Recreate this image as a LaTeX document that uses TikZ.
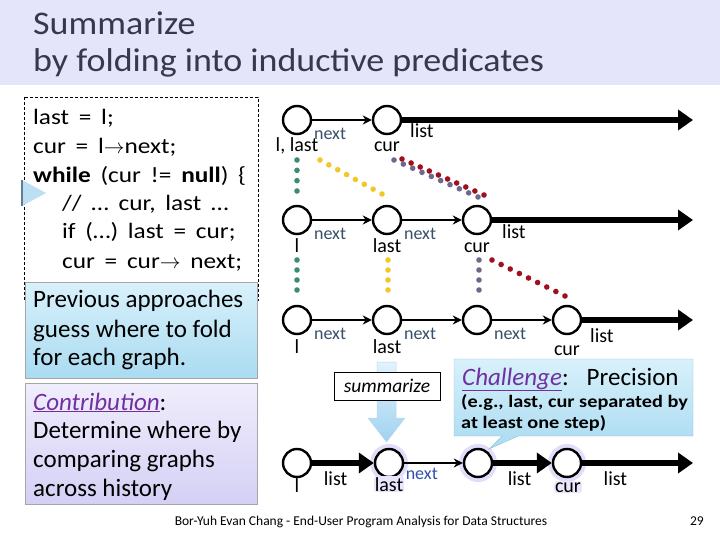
\documentclass[tikz,border=0pt]{standalone}
\usepackage{fontspec}
\setmainfont{Carlito}
\newfontfamily\codefont[FakeStretch=1.15, WordSpace=1.7]{Carlito}
\newfontfamily\notefont[FakeStretch=1.16]{Carlito}
\newfontfamily\headfont[FakeStretch=1.09]{Carlito}
\usetikzlibrary{arrows.meta, positioning, calc, shapes.callouts}

\definecolor{titlebg}{RGB}{228,228,250}
\definecolor{titleink}{RGB}{55,55,78}
\definecolor{prevtop}{RGB}{216,241,251}
\definecolor{prevbot}{RGB}{170,219,241}
\definecolor{contop}{RGB}{240,237,252}
\definecolor{conbot}{RGB}{212,208,245}
\definecolor{keyword}{RGB}{112,48,160}
\definecolor{fieldink}{RGB}{55,78,104}
\definecolor{fieldblue}{RGB}{50,80,170}
\definecolor{dotgreen}{RGB}{60,140,110}
\definecolor{dotyellow}{RGB}{242,200,40}
\definecolor{dotgray}{RGB}{110,105,140}
\definecolor{dotred}{RGB}{160,15,30}
\definecolor{glow}{RGB}{180,170,240}
\definecolor{arrowtop}{RGB}{226,243,252}
\definecolor{arrowbot}{RGB}{160,210,240}

\newcommand{\dotrun}[4]{%
  % #1 = cor, #2 = ponto inicial, #3 = ponto final, #4 = número de intervalos
  \foreach \i in {0,...,#4} {
    \fill[#1] ($(#2)!\i/#4!(#3)$) circle (2.8);
  }
}

\tikzset{
  cell/.style={circle, draw, line width=2.4pt, fill=white, minimum size=28pt, inner sep=0pt},
  var/.style={font=\fontsize{20}{20}\selectfont, inner sep=0pt, anchor=base},
  field/.style={font=\fontsize{18}{18}\selectfont, text=fieldink, inner sep=0pt},
  nextedge/.style={line width=1.8pt, -{Stealth[length=9pt, width=9pt]}},
  listedge/.style={line width=6.5pt, -{Triangle[length=15pt, width=20pt]}},
  listlbl/.style={font=\fontsize{20}{20}\selectfont, inner sep=0pt},
  code/.style={font=\codefont\fontsize{22}{22}\selectfont, inner sep=0pt, anchor=base west},
  boxtext/.style={font=\fontsize{25}{25}\selectfont, inner sep=0pt, anchor=base west},
  halo/.style={preaction={draw=glow, line width=10pt, opacity=.4}},
}

\begin{document}
\begin{tikzpicture}[x=1pt, y=-1pt]
    \useasboundingbox (0,0) rectangle (720,540);

    % title
    \fill[titlebg] (0,0) rectangle (720,85);
    \node[font=\headfont\fontsize{33}{33}\selectfont, text=titleink, inner sep=0pt, anchor=base west] (title1) at (33,35) {Summarize};
    \node[font=\headfont\fontsize{33}{33}\selectfont, text=titleink, inner sep=0pt, anchor=base west] (title2) at (33,72) {by folding into inductive predicates};

    % program
    \draw[line width=0.8pt, dash pattern=on 3pt off 2pt] (24,97) rectangle (258,300);
    \node[code] (line1) at (33,125) {last = l;};
    \node[code] (line2) at (33,154) {cur = l$\rightarrow$next;};
    \node[code] (line3) at (33,183) {\textbf{while} (cur != \textbf{null}) \{};
    \node[code] (line4) at (62,211) {// … cur, last …};
    \node[code] (line5) at (62,239) {if (…) last = cur;};
    \node[code] (line6) at (62,268) {cur = cur$\rightarrow$ next;};
    \fill[arrowbot!70] (22,180) -- (46,193) -- (22,206) -- cycle;
    \draw[line width=1.6pt, arrowbot!60!black] (22,180) -- (22,206);

    % previous approaches
    \node[draw=gray!70, top color=prevtop, bottom color=prevbot, minimum width=232pt, minimum height=96pt, anchor=north west] (prev) at (25,282) {};
    \node[boxtext] (prev1) at (33,307) {Previous approaches};
    \node[boxtext] (prev2) at (33,337) {guess where to fold};
    \node[boxtext] (prev3) at (33,365) {for each graph.};

    % contribution
    \node[draw=gray!70, top color=contop, bottom color=conbot, minimum width=232pt, minimum height=121pt, anchor=north west] (contrib) at (25,383) {};
    \node[boxtext] (contrib1) at (33,410) {\textcolor{keyword}{\underline{\textit{Contribution}}}:};
    \node[boxtext] (contrib2) at (33,438) {Determine where by};
    \node[boxtext] (contrib3) at (33,467) {comparing graphs};
    \node[boxtext] (contrib4) at (33,496) {across history};

    % first graph
    \node[cell] (a1) at (297,120) {};
    \node[cell] (b1) at (387,120) {};
    \coordinate (e1) at (693,120);
    \draw[nextedge] (a1) -- node[field, pos=.3, below=7pt] (n1) {next} (b1);
    \draw[listedge] (b1) -- (e1);
    \node[listlbl, anchor=base west] (l1) at (410,138) {list};
    \node[var] (va1) at (297,152) {l, last};
    \node[var] (vb1) at (387,152) {cur};

    \dotrun{dotgreen}{297,160}{297,191}{3}
    \dotrun{dotyellow}{320,160}{382,194}{7}
    \dotrun{dotgray}{394,160}{478,197}{9}
    \dotrun{dotred}{402,159}{484,195}{9}

    % second graph
    \node[cell] (a2) at (297,220) {};
    \node[cell] (b2) at (387,220) {};
    \node[cell] (c2) at (477,220) {};
    \coordinate (e2) at (693,220);
    \draw[nextedge] (a2) -- node[field, pos=.3, below=7pt] (n2) {next} (b2);
    \draw[nextedge] (b2) -- node[field, pos=.3, below=7pt] (n3) {next} (c2);
    \draw[listedge] (c2) -- (e2);
    \node[listlbl, anchor=base west] (l2) at (502,239) {list};
    \node[var] (va2) at (297,252) {l};
    \node[var] (vb2) at (387,252) {last};
    \node[var] (vc2) at (477,252) {cur};

    \dotrun{dotgreen}{297,260}{297,290}{3}
    \dotrun{dotyellow}{388,260}{388,290}{3}
    \dotrun{dotgray}{479,260}{479,290}{3}
    \dotrun{dotred}{492,260}{565,296}{8}

    % third graph
    \node[cell] (a3) at (297,320) {};
    \node[cell] (b3) at (387,320) {};
    \node[cell] (c3) at (477,320) {};
    \node[cell] (d3) at (567,320) {};
    \coordinate (e3) at (693,320);
    \draw[nextedge] (a3) -- node[field, pos=.3, below=7pt] (n4) {next} (b3);
    \draw[nextedge] (b3) -- node[field, pos=.3, below=7pt] (n5) {next} (c3);
    \draw[nextedge] (c3) -- node[field, pos=.3, below=7pt] (n6) {next} (d3);
    \draw[listedge] (d3) -- (e3);
    \node[listlbl, anchor=base west] (l3) at (590,342) {list};
    \node[var] (va3) at (297,353) {l};
    \node[var] (vb3) at (387,353) {last};
    \node[var] (vd3) at (567,355) {cur};

    % summarize step
    \shade[top color=arrowtop, bottom color=arrowbot, draw=arrowbot!80, line width=0.5pt]
        (377,362) -- (396,362) -- (396,418) -- (405,418) -- (386.5,442) -- (368,418) -- (377,418) -- cycle;
    \node[draw, line width=0.8pt, fill=white, minimum width=106pt, minimum height=28pt, font=\fontsize{19.5}{19.5}\selectfont\itshape] (summ) at (387,386) {summarize};

    % challenge
    \node[rectangle callout, draw=arrowbot!90!black, top color=prevtop, bottom color=prevbot,
          minimum width=239pt, minimum height=77pt, callout absolute pointer={(489,449)},
          callout pointer width=16pt] (chall) at (573.5,397.5) {};
    \node[boxtext] (chall1) at (462,385) {\textcolor{keyword}{\underline{\textit{Challenge}}}:\hspace{18pt}Precision};
    \node[boxtext, font=\notefont\fontsize{17.5}{17.5}\selectfont\bfseries] (chall2) at (461,407) {(e.g., last, cur separated by};
    \node[boxtext, font=\notefont\fontsize{17.5}{17.5}\selectfont\bfseries] (chall3) at (461,428) {at least one step)};

    % summary graph
    \node[cell] (a4) at (297,463) {};
    \node[cell, halo] (b4) at (389,463) {};
    \node[cell, halo] (c4) at (478,463) {};
    \node[cell, halo] (d4) at (567,463) {};
    \coordinate (e4) at (693,463);
    \draw[listedge] (a4) -- node[listlbl, pos=.38, below=5pt] (l4) {list} (b4);
    \draw[nextedge] (b4) -- node[field, text=fieldblue, pos=.3, below=4pt] (n7) {next} (c4);
    \draw[listedge] (c4) -- node[listlbl, pos=.45, below=5pt] (l5) {list} (d4);
    \draw[listedge] (d4) -- node[listlbl, pos=.3, below=5pt] (l6) {list} (e4);
    \node[var] (va4) at (297,492) {l};
    \node[var, fill=glow!30, inner sep=1pt, rounded corners=3pt] (vb4) at (389,491) {last};
    \node[var, fill=glow!30, inner sep=1pt, rounded corners=3pt] (vd4) at (568,492) {cur};

    % footer
    \node[font=\fontsize{13.5}{13.5}\selectfont, inner sep=0pt, anchor=base] (foot) at (361,525) {Bor-Yuh Evan Chang - End-User Program Analysis for Data Structures};
    \node[font=\fontsize{13.5}{13.5}\selectfont, inner sep=0pt, anchor=base east] (page) at (704,525) {29};
\end{tikzpicture}
\end{document}
